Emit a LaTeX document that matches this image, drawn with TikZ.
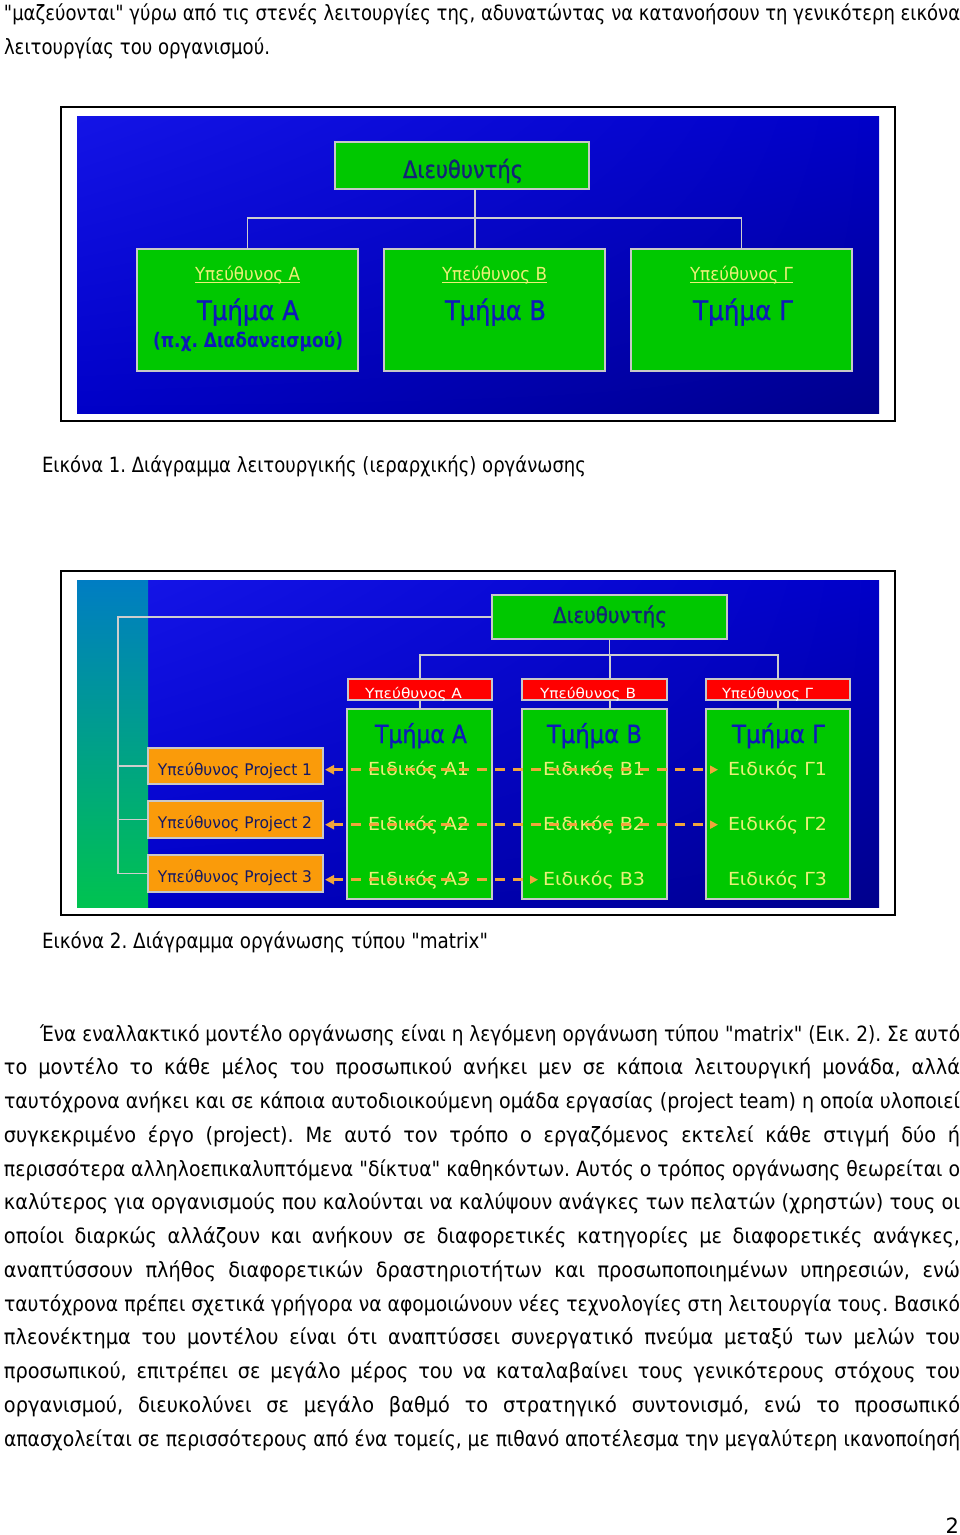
\documentclass[tikz,border=0pt]{standalone}
\usepackage{graphicx}
\usepackage{fontspec}
\setmainfont{DejaVu Sans}[Ligatures=TeXOff]
\newfontfamily\parafont{DejaVu Sans}[Ligatures=TeXOff,FakeStretch=0.92]
\newfontfamily\heavyfont{DejaVu Sans}[Ligatures=TeXOff,FakeBold=1.0]
\frenchspacing
\usetikzlibrary{arrows.meta,shadings}
\definecolor{boxgreen}{RGB}{0,200,0}
\definecolor{boxline}{RGB}{200,200,200}
\definecolor{connC}{RGB}{205,205,205}
\definecolor{paleY}{RGB}{235,240,120}
\definecolor{tblue}{RGB}{15,25,185}
\definecolor{navyD}{RGB}{20,35,120}
\definecolor{projC}{RGB}{250,155,10}
\definecolor{redC}{RGB}{255,0,0}
\definecolor{dashC}{RGB}{240,165,60}
\definecolor{projText}{RGB}{20,25,100}
\definecolor{bgA}{RGB}{20,20,230}
\definecolor{bgB}{RGB}{0,0,200}
\definecolor{bgC}{RGB}{0,0,140}
\definecolor{stripT}{RGB}{0,125,195}
\definecolor{stripB}{RGB}{0,195,80}
\newlength\natw
\newcommand\fitline[2]{\settowidth\natw{#2}\ifdim\natw>#1\relax\resizebox{#1}{\height}{#2}\else\makebox[#1][s]{#2}\fi}
\newcommand\fitw[2]{\resizebox{#1}{\height}{#2}}
\tikzset{
  pline/.style={anchor=base west, inner sep=0pt, outer sep=0pt, font=\parafont\fontsize{21}{25}\selectfont\frenchspacing, text=black},
  capline/.style={anchor=base west, inner sep=0pt, outer sep=0pt, font=\fontsize{21}{25}\selectfont, text=black},
  lbl/.style={anchor=base, inner sep=0pt, outer sep=0pt},
  frame/.style={draw=black, line width=2pt, fill=white},
  gbox/.style={draw=boxline, fill=boxgreen, line width=1.5pt, inner sep=0pt, outer sep=0pt, anchor=north west},
  rbox/.style={draw=boxline, fill=redC, line width=1.2pt, inner sep=0pt, outer sep=0pt, anchor=north west},
  obox/.style={draw=boxline, fill=projC, line width=1.2pt, inner sep=0pt, outer sep=0pt, anchor=north west},
  conn/.style={draw=connC, line width=1.5pt},
  darr/.style={draw=dashC, line width=3pt, dash pattern=on 10pt off 8pt, {Triangle[length=9pt,width=9pt]}-{Triangle[length=8pt,width=8pt]}}
}
\begin{document}
\begin{tikzpicture}[x=1pt,y=-1pt]
\useasboundingbox (0,0) rectangle (960,1535);
\fill[white] (0,0) rectangle (960,1535);

% ---------- text above ----------
\node[pline] (top1) at (4,20) {\fitline{956pt}{"μαζεύονται" γύρω από τις στενές λειτουργίες της, αδυνατώντας να κατανοήσουν τη γενικότερη εικόνα}};
\node[pline] (top2) at (4,54) {\fitw{266pt}{λειτουργίας του οργανισμού.}};

% ---------- figure 1 ----------
\draw[frame] (61,107) rectangle (895,421);
\shade[upper left=bgA, upper right=bgB, lower left=bgB, lower right=bgC] (77,116) rectangle (879,413);

\node[gbox, minimum width=254pt, minimum height=47pt] (d1) at (335,142) {};
\node[gbox, minimum width=221pt, minimum height=122pt] (bA) at (137,249) {};
\node[gbox, minimum width=221pt, minimum height=122pt] (bB) at (384,249) {};
\node[gbox, minimum width=221pt, minimum height=122pt] (bG) at (631,249) {};

\coordinate (j1) at (475,218);
\draw[conn] (j1 |- d1.south) -- (j1 |- bB.north);
\draw[conn] (bA.north) -- (bA.north |- j1) -- (bG.north |- j1) -- (bG.north);

\node[lbl, font=\heavyfont\fontsize{24}{28}\selectfont, text=navyD] (d1t) at (463,178) {\fitw{120pt}{Διευθυντής}};
\node[lbl, font=\fontsize{18}{22}\selectfont, text=paleY] (uA) at (247.5,280) {\fitw{105pt}{Υπεύθυνος Α}};
\node[lbl, font=\fontsize{18}{22}\selectfont, text=paleY] (uB) at (494.5,280) {\fitw{105pt}{Υπεύθυνος Β}};
\node[lbl, font=\fontsize{18}{22}\selectfont, text=paleY] (uG) at (741.5,280) {\fitw{103pt}{Υπεύθυνος Γ}};
\foreach \n in {uA,uB,uG}{
  \draw[paleY, line width=1.2pt] ([yshift=-2.5pt]\n.base west) -- ([yshift=-2.5pt]\n.base east);
}
\node[lbl, font=\heavyfont\fontsize{27}{31}\selectfont, text=tblue] (tA) at (248,320) {\fitw{102pt}{Τμήμα Α}};
\node[lbl, font=\heavyfont\fontsize{27}{31}\selectfont, text=tblue] (tB) at (495.5,320) {\fitw{101pt}{Τμήμα Β}};
\node[lbl, font=\heavyfont\fontsize{27}{31}\selectfont, text=tblue] (tG) at (743,320) {\fitw{100pt}{Τμήμα Γ}};
\node[lbl, font=\fontsize{20}{24}\selectfont\bfseries, text=tblue] (pxA) at (248,347) {\fitw{190pt}{(π.χ. Διαδανεισμού)}};

\node[capline] (cap1) at (42,472) {\fitw{544pt}{Εικόνα 1. Διάγραμμα λειτουργικής (ιεραρχικής) οργάνωσης}};

% ---------- figure 2 ----------
\draw[frame] (61,571) rectangle (895,915);
\shade[upper left=bgA, upper right=bgB, lower left=bgB, lower right=bgC] (148,580) rectangle (879,907);
\shade[top color=stripT, bottom color=stripB] (77,580) rectangle (148,907);

\node[gbox, minimum width=235pt, minimum height=44pt] (d2) at (492,595) {};
\node[rbox, minimum width=144pt, minimum height=21pt] (rA) at (348,679) {};
\node[rbox, minimum width=145pt, minimum height=21pt] (rB) at (522,679) {};
\node[rbox, minimum width=144pt, minimum height=21pt] (rG) at (706,679) {};
\node[gbox, minimum width=145pt, minimum height=190pt] (gA) at (347,709) {};
\node[gbox, minimum width=145pt, minimum height=190pt] (gB) at (522,709) {};
\node[gbox, minimum width=144pt, minimum height=190pt] (gG) at (706,709) {};
\node[obox, minimum width=175pt, minimum height=36pt] (p1) at (148,748) {};
\node[obox, minimum width=175pt, minimum height=37pt] (p2) at (148,801) {};
\node[obox, minimum width=175pt, minimum height=37pt] (p3) at (148,855) {};

\coordinate (j2) at (610,655);
\coordinate (j3) at (118,617);
\draw[conn] (d2.south) -- (d2.south |- j2);
\draw[conn] (rA.north) -- (rA.north |- j2) -- (rG.north |- j2) -- (rG.north);
\draw[conn] (j2) -- (j2 |- rB.north);
\draw[conn] (rA.south) -- (rA.south |- gA.north);
\draw[conn] (j2 |- rB.south) -- (j2 |- gB.north);
\draw[conn] (rG.south) -- (rG.south |- gG.north);
\draw[conn] (d2.west) -- (d2.west -| j3) -- (j3 |- p3.west) -- (p3.west);
\draw[conn] (j3 |- p1.west) -- (p1.west);
\draw[conn] (j3 |- p2.west) -- (p2.west);

\node[lbl, font=\heavyfont\fontsize{22}{26}\selectfont, text=navyD] (d2t) at (610,623) {\fitw{114pt}{Διευθυντής}};
\node[lbl, font=\fontsize{14}{17}\selectfont, text=white] (rAt) at (413.5,698) {\fitw{97pt}{Υπεύθυνος Α}};
\node[lbl, font=\fontsize{14}{17}\selectfont, text=white] (rBt) at (588,698) {\fitw{96pt}{Υπεύθυνος Β}};
\node[lbl, font=\fontsize{14}{17}\selectfont, text=white] (rGt) at (767.5,698) {\fitw{91pt}{Υπεύθυνος Γ}};
\node[lbl, font=\heavyfont\fontsize{25}{29}\selectfont, text=tblue] (tA2) at (421,743) {\fitw{92pt}{Τμήμα Α}};
\node[lbl, font=\heavyfont\fontsize{25}{29}\selectfont, text=tblue] (tB2) at (594.5,743) {\fitw{95pt}{Τμήμα Β}};
\node[lbl, font=\heavyfont\fontsize{25}{29}\selectfont, text=tblue] (tG2) at (778.5,743) {\fitw{93pt}{Τμήμα Γ}};

\node[lbl, font=\fontsize{18}{22}\selectfont, text=paleY] (eA1) at (418.5,775) {\fitw{101pt}{Ειδικός Α1}};
\node[lbl, font=\fontsize{18}{22}\selectfont, text=paleY] (eB1) at (594,775) {\fitw{102pt}{Ειδικός Β1}};
\node[lbl, font=\fontsize{18}{22}\selectfont, text=paleY] (eG1) at (777.5,775) {\fitw{99pt}{Ειδικός Γ1}};
\node[lbl, font=\fontsize{18}{22}\selectfont, text=paleY] (eA2) at (418.5,830) {\fitw{101pt}{Ειδικός Α2}};
\node[lbl, font=\fontsize{18}{22}\selectfont, text=paleY] (eB2) at (594,830) {\fitw{102pt}{Ειδικός Β2}};
\node[lbl, font=\fontsize{18}{22}\selectfont, text=paleY] (eG2) at (777.5,830) {\fitw{99pt}{Ειδικός Γ2}};
\node[lbl, font=\fontsize{18}{22}\selectfont, text=paleY] (eA3) at (418.5,885) {\fitw{101pt}{Ειδικός Α3}};
\node[lbl, font=\fontsize{18}{22}\selectfont, text=paleY] (eB3) at (594,885) {\fitw{102pt}{Ειδικός Β3}};
\node[lbl, font=\fontsize{18}{22}\selectfont, text=paleY] (eG3) at (777.5,885) {\fitw{99pt}{Ειδικός Γ3}};

\node[lbl, font=\fontsize{16}{19}\selectfont, text=projText] (p1t) at (235,775) {\fitw{154pt}{Υπεύθυνος Project 1}};
\node[lbl, font=\fontsize{16}{19}\selectfont, text=projText] (p2t) at (235,828) {\fitw{154pt}{Υπεύθυνος Project 2}};
\node[lbl, font=\fontsize{16}{19}\selectfont, text=projText] (p3t) at (235,882) {\fitw{154pt}{Υπεύθυνος Project 3}};

\draw[darr] ([xshift=2pt]p1.east |- eA1) -- ([xshift=-10pt]eG1.west);
\draw[darr] ([xshift=2pt]p2.east |- eA2) -- ([xshift=-10pt]eG2.west);
\draw[darr] ([xshift=2pt]p3.east |- eA3) -- ([xshift=-5pt]eB3.west);

\node[capline] (cap2) at (42,948) {\fitw{446pt}{Εικόνα 2. Διάγραμμα οργάνωσης τύπου "matrix"}};

% ---------- paragraph ----------
\node[pline] (l01) at (40,1041) {\fitline{920pt}{Ένα εναλλακτικό μοντέλο οργάνωσης είναι η λεγόμενη οργάνωση τύπου "matrix" (Εικ. 2). Σε αυτό}};
\node[pline] (l02) at (4,1074.75) {\fitline{956pt}{το μοντέλο το κάθε μέλος του προσωπικού ανήκει μεν σε κάποια λειτουργική μονάδα, αλλά}};
\node[pline] (l03) at (4,1108.5) {\fitline{956pt}{ταυτόχρονα ανήκει και σε κάποια αυτοδιοικούμενη ομάδα εργασίας (project team) η οποία υλοποιεί}};
\node[pline] (l04) at (4,1142.25) {\fitline{956pt}{συγκεκριμένο έργο (project). Με αυτό τον τρόπο ο εργαζόμενος εκτελεί κάθε στιγμή δύο ή}};
\node[pline] (l05) at (4,1176) {\fitline{956pt}{περισσότερα αλληλοεπικαλυπτόμενα "δίκτυα" καθηκόντων. Αυτός ο τρόπος οργάνωσης θεωρείται ο}};
\node[pline] (l06) at (4,1209.75) {\fitline{956pt}{καλύτερος για οργανισμούς που καλούνται να καλύψουν ανάγκες των πελατών (χρηστών) τους οι}};
\node[pline] (l07) at (4,1243.5) {\fitline{956pt}{οποίοι διαρκώς αλλάζουν και ανήκουν σε διαφορετικές κατηγορίες με διαφορετικές ανάγκες,}};
\node[pline] (l08) at (4,1277.25) {\fitline{956pt}{αναπτύσσουν πλήθος διαφορετικών δραστηριοτήτων και προσωποποιημένων υπηρεσιών, ενώ}};
\node[pline] (l09) at (4,1311) {\fitline{956pt}{ταυτόχρονα πρέπει σχετικά γρήγορα να αφομοιώνουν νέες τεχνολογίες στη λειτουργία τους. Βασικό}};
\node[pline] (l10) at (4,1344.75) {\fitline{956pt}{πλεονέκτημα του μοντέλου είναι ότι αναπτύσσει συνεργατικό πνεύμα μεταξύ των μελών του}};
\node[pline] (l11) at (4,1378.5) {\fitline{956pt}{προσωπικού, επιτρέπει σε μεγάλο μέρος του να καταλαβαίνει τους γενικότερους στόχους του}};
\node[pline] (l12) at (4,1412.25) {\fitline{956pt}{οργανισμού, διευκολύνει σε μεγάλο βαθμό το στρατηγικό συντονισμό, ενώ το προσωπικό}};
\node[pline] (l13) at (4,1446) {\fitline{956pt}{απασχολείται σε περισσότερους από ένα τομείς, με πιθανό αποτέλεσμα την μεγαλύτερη ικανοποίησή}};

\node[capline, anchor=base east] (pnum) at (959,1533) {2};
\end{tikzpicture}
\end{document}
